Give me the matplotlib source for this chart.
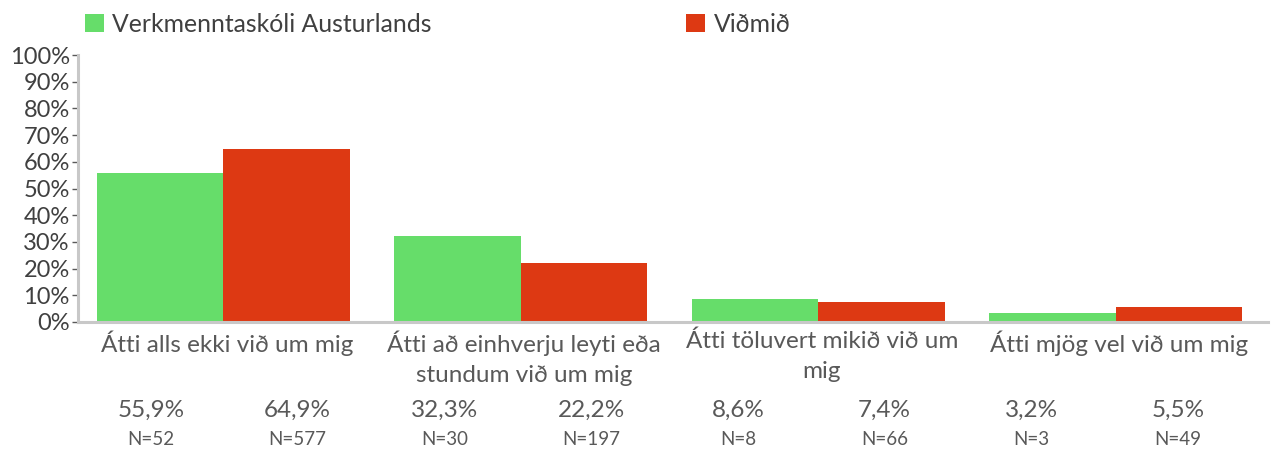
import matplotlib
matplotlib.use("Agg")
import matplotlib.pyplot as plt
import numpy as np

plt.rcParams['font.family'] = ['Lato', 'DejaVu Sans']

categories = [
    "Átti alls ekki við um mig",
    "Átti að einhverju leyti eða\nstundum við um mig",
    "Átti töluvert mikið við um\nmig",
    "Átti mjög vel við um mig",
]
series_names = ["Verkmenntaskóli Austurlands", "Viðmið"]
school_pct = [55.9, 32.3, 8.6, 3.2]
benchmark_pct = [64.9, 22.2, 7.4, 5.5]
school_n = [52, 30, 8, 3]
benchmark_n = [577, 197, 66, 49]
yticks = [0, 10, 20, 30, 40, 50, 60, 70, 80, 90, 100]

GREEN = "#66DD6A"
RED = "#DD3913"
TEXT = "#404040"
SOFT = "#595959"

fig = plt.figure(figsize=(12.76, 4.5), dpi=100)
ax = fig.add_axes([78 / 1276, 1 - 322 / 450, 1190 / 1276, 267 / 450])

x = np.arange(len(categories))
w = 0.425
b1 = ax.bar(x - w / 2 - 0.012, school_pct, w, color=GREEN, label=series_names[0], zorder=2)
b2 = ax.bar(x + w / 2 - 0.012, benchmark_pct, w, color=RED, label=series_names[1], zorder=2)

ax.set_xlim(-0.5, len(categories) - 0.5)
ax.set_ylim(0, 100)
ax.set_yticks(yticks)
ax.set_yticklabels([f"{v}%" for v in yticks], fontsize=17, color=TEXT)
ax.tick_params(axis='y', length=4, width=1, color=SOFT, pad=2)
ax.set_xticks(x)
ax.set_xticklabels(categories, fontsize=17.5, color=SOFT, linespacing=1.55)
ax.tick_params(axis='x', length=0, pad=6)

for s in ['top', 'right']:
    ax.spines[s].set_visible(False)
for s in ['left', 'bottom']:
    ax.spines[s].set_color("#C8C8C8")
    ax.spines[s].set_linewidth(2.2)

# value and count rows under the categories
pairs = []
for i in range(len(categories)):
    pairs.append((school_pct[i], school_n[i]))
    pairs.append((benchmark_pct[i], benchmark_n[i]))
x0 = (151 - 78) / 1190
step = (1178 - 151) / 7 / 1190
for k, (pct, n) in enumerate(pairs):
    xf = x0 + k * step
    ax.text(xf, -0.33, f"{pct:.1f}%".replace(".", ","), transform=ax.transAxes,
            ha='center', va='center', fontsize=17.5, color=SOFT)
    ax.text(xf, -0.44, f"N={n}", transform=ax.transAxes,
            ha='center', va='center', fontsize=13.5, color=SOFT)

leg = ax.legend(handles=[b1, b2], loc='upper left', ncol=2,
                bbox_to_anchor=(7 / 1190, 1 + 42 / 267), frameon=False,
                fontsize=17.8, handlelength=0.75, handleheight=0.75,
                handletextpad=0.35, columnspacing=10.3, borderaxespad=0,
                borderpad=0)
for t in leg.get_texts():
    t.set_color(TEXT)

fig.savefig("out.png", dpi=100)
